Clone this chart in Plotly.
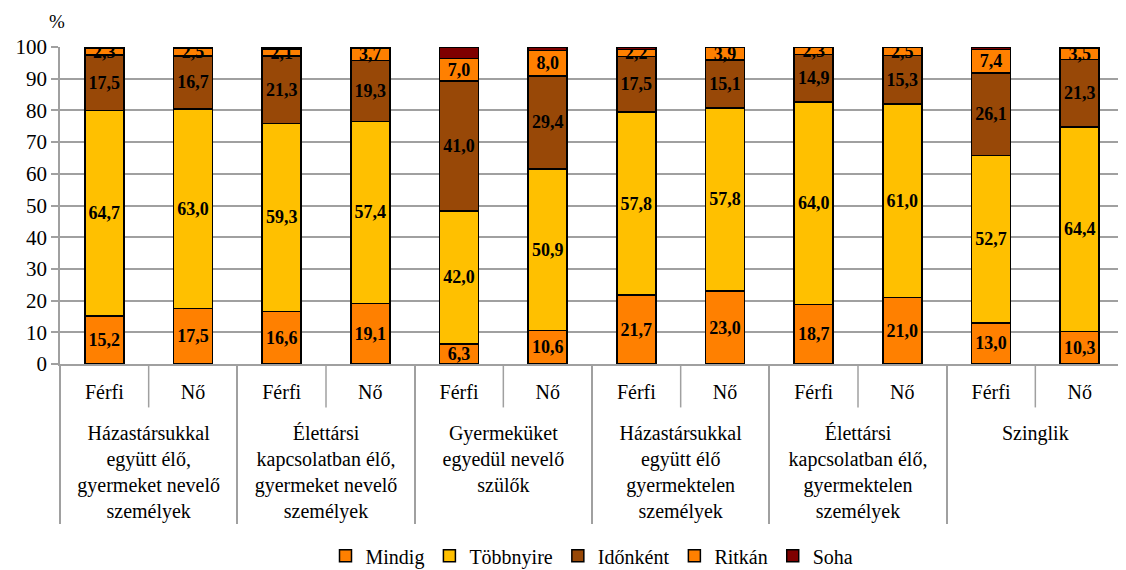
import plotly.graph_objects as go

GROUPS = [
    "<br>Házastársukkal<br>együtt élő,<br>gyermeket nevelő<br>személyek",
    "<br>Élettársi<br>kapcsolatban élő,<br>gyermeket nevelő<br>személyek",
    "<br>Gyermeküket<br>egyedül nevelő<br>szülők<br> ",
    "<br>Házastársukkal<br>együtt élő<br>gyermektelen<br>személyek",
    "<br>Élettársi<br>kapcsolatban élő,<br>gyermektelen<br>személyek",
    "<br>Szinglik<br> <br> <br> ",
]
SEXES = ["Férfi", "Nő"]

mindig = [15.2, 17.5, 16.6, 19.1, 6.3, 10.6, 21.7, 23.0, 18.7, 21.0, 13.0, 10.3]
tobbnyire = [64.7, 63.0, 59.3, 57.4, 42.0, 50.9, 57.8, 57.8, 64.0, 61.0, 52.7, 64.4]
idonkent = [17.5, 16.7, 21.3, 19.3, 41.0, 29.4, 17.5, 15.1, 14.9, 15.3, 26.1, 21.3]
ritkan = [2.3, 2.5, 2.1, 3.7, 7.0, 8.0, 2.2, 3.9, 2.3, 2.5, 7.4, 3.5]
soha = [0.3, 0.3, 0.7, 0.5, 3.7, 1.1, 0.8, 0.2, 0.1, 0.2, 0.8, 0.5]

x_level1 = [g for g in GROUPS for _ in SEXES]
x_level2 = [s for _ in GROUPS for s in SEXES]

SERIES = [
    ("Mindig", mindig, "#FF8000", True),
    ("Többnyire", tobbnyire, "#FFC000", True),
    ("Időnként", idonkent, "#984807", True),
    ("Ritkán", ritkan, "#FF8000", True),
    ("Soha", soha, "#7F0000", False),
]

SERIF = "Liberation Serif"
GRID = "#A0A0A0"

fig = go.Figure()
for name, vals, color, labelled in SERIES:
    fig.add_trace(go.Bar(
        name=name,
        x=[x_level1, x_level2],
        y=vals,
        marker=dict(color=color, line=dict(color="black", width=1.5)),
        text=[f"{v:.1f}".replace(".", ",") for v in vals] if labelled else None,
        textposition="inside" if labelled else "none",
        insidetextanchor="middle",
        textangle=0,
        textfont=dict(family=SERIF, size=18, color="black", weight="bold"),
    ))

# short dividers between Férfi / Nő within each group
for i in range(len(GROUPS)):
    xp = (2 * i + 1) / (2 * len(GROUPS))
    fig.add_shape(type="line", xref="paper", yref="paper",
                  x0=xp, x1=xp, y0=0, y1=-0.137,
                  line=dict(color=GRID, width=1.5))

fig.add_annotation(text="%", xref="paper", yref="paper", x=-0.003, y=1.04,
                   showarrow=False, xanchor="center", yanchor="bottom",
                   font=dict(family=SERIF, size=19, color="black"))

fig.update_layout(
    barmode="stack",
    bargap=0.56,
    width=1126,
    height=570,
    margin=dict(l=52, r=10, t=39, b=214, autoexpand=False),
    plot_bgcolor="white",
    paper_bgcolor="white",
    font=dict(family=SERIF, size=20, color="black"),
    uniformtext=dict(minsize=18, mode="show"),
    legend=dict(orientation="h", x=0.5, xanchor="center", y=0.039, yanchor="middle",
                yref="container", font=dict(family=SERIF, size=20),
                itemwidth=30, traceorder="normal"),
    showlegend=True,
)
fig.update_yaxes(range=[0, 100], dtick=10, showgrid=True, gridcolor=GRID,
                 gridwidth=1.5, showline=True, linecolor=GRID, linewidth=1.5,
                 ticks="outside", tickcolor=GRID, ticklen=7, tickwidth=1.5,
                 zeroline=False, automargin=False,
                 tickfont=dict(family=SERIF, size=21))
fig.update_xaxes(showline=True, linecolor=GRID, linewidth=1.5,
                 showdividers=True, dividercolor=GRID, dividerwidth=1.5,
                 tickson="boundaries", ticks="outside", tickcolor=GRID, ticklen=0,
                 automargin=False, ticklabelstandoff=9,
                 tickfont=dict(family=SERIF, size=20))

fig.write_html("out.html")
